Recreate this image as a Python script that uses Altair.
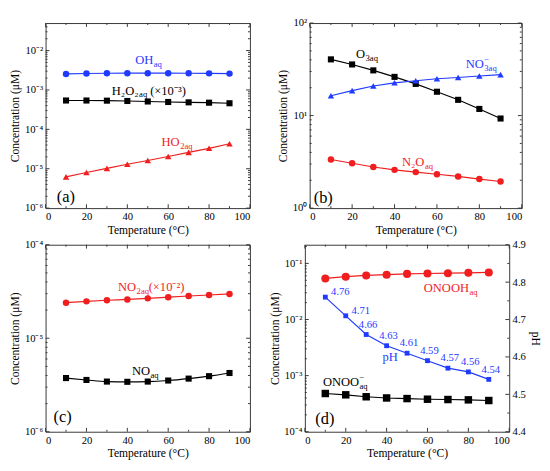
import math
import altair as alt
import pandas as pd

FONT = "Liberation Serif"
AXFONT = "Liberation Serif"
BLUE = "#1f3bff"
RED = "#f01e1e"
BLACK = "#000000"
FRAME = "#333333"

TEMPS = [10, 20, 30, 40, 50, 60, 70, 80, 90]
X_TICKS = [0, 20, 40, 60, 80, 100]
X_MINOR = [10, 30, 50, 70, 90]

# panel (a)
OH = [2.55e-3, 2.62e-3, 2.65e-3, 2.67e-3, 2.67e-3, 2.67e-3, 2.66e-3, 2.64e-3, 2.60e-3]
H2O2 = [5.4e-4, 5.4e-4, 5.35e-4, 5.25e-4, 5.1e-4, 4.95e-4, 4.85e-4, 4.75e-4, 4.6e-4]
HO2 = [6.2e-6, 8.0e-6, 1.02e-5, 1.3e-5, 1.62e-5, 2.05e-5, 2.6e-5, 3.3e-5, 4.3e-5]
A_YTICKS = [1e-6, 1e-5, 1e-4, 1e-3, 1e-2]
A_YLABELS = ["10⁻⁶", "10⁻⁵", "10⁻⁴", "10⁻³", "10⁻²"]

# panel (b)
O3 = [40.5, 35.7, 30.8, 26.2, 22.0, 18.1, 14.8, 11.8, 9.3]
NO3 = [16.4, 18.6, 20.9, 22.6, 23.8, 25.0, 25.8, 26.8, 27.7]
N2O = [3.35, 3.05, 2.78, 2.59, 2.45, 2.32, 2.20, 2.06, 1.94]
B_YTICKS = [1, 10, 100]
B_YLABELS = ["10⁰", "10¹", "10²"]

# panel (c)
NO2 = [2.40e-5, 2.48e-5, 2.55e-5, 2.60e-5, 2.67e-5, 2.75e-5, 2.83e-5, 2.90e-5, 2.98e-5]
NO = [3.75e-6, 3.58e-6, 3.44e-6, 3.42e-6, 3.44e-6, 3.53e-6, 3.70e-6, 3.93e-6, 4.25e-6]
C_YTICKS = [1e-6, 1e-5, 1e-4]
C_YLABELS = ["10⁻⁶", "10⁻⁵", "10⁻⁴"]

# panel (d)
ONOOH = [0.054, 0.058, 0.061, 0.063, 0.065, 0.066, 0.067, 0.068, 0.069]
ONOO = [4.8e-4, 4.55e-4, 4.2e-4, 4.0e-4, 3.9e-4, 3.8e-4, 3.75e-4, 3.7e-4, 3.6e-4]
PH = [4.76, 4.71, 4.66, 4.63, 4.61, 4.59, 4.57, 4.56, 4.54]
PH_LABELS = ["4.76", "4.71", "4.66", "4.63", "4.61", "4.59", "4.57", "4.56", "4.54"]
D_YTICKS = [1e-4, 1e-3, 1e-2, 1e-1]
D_YLABELS = ["10⁻⁴", "10⁻³", "10⁻²", "10⁻¹"]
PH_TICKS = [4.4, 4.5, 4.6, 4.7, 4.8, 4.9]
PH_MINOR = [4.45, 4.55, 4.65, 4.75, 4.85]


def label_expr(ticks, labels):
    lo = round(math.log10(ticks[0]))
    arr = "[" + ",".join("'" + s + "'" for s in labels) + "]"
    return f"{arr}[round(log(datum.value)/LN10) - ({lo})]"


AX = dict(labelFont=AXFONT, titleFont=AXFONT, labelFontSize=11, titleFontSize=12,
          titleFontWeight="normal", labelColor=BLACK, titleColor=BLACK,
          domain=False, ticks=False, grid=False, labelPadding=3, titlePadding=3)


def x_enc():
    return alt.X("T:Q", scale=alt.Scale(domain=[0, 100], nice=False),
                 axis=alt.Axis(values=X_TICKS, title="Temperature (°C)", **AX))


def log_y(domain, ticks, labels):
    return alt.Y("v:Q", scale=alt.Scale(type="log", domain=domain, nice=False),
                 axis=alt.Axis(values=ticks, labelExpr=label_expr(ticks, labels),
                               title="Concentration (μM)", **AX))


def text_layer(x, y, txt, yenc, color, size=13, align="left", dx=0, dy=0):
    df = pd.DataFrame({"T": [x], "v": [y], "t": [txt]})
    return alt.Chart(df).mark_text(
        align=align, baseline="middle", dx=dx, dy=dy, fontSize=size,
        font=FONT, color=color
    ).encode(x=x_enc(), y=yenc, text="t:N")


def chem_label(x, y, main, sub, yenc, color, sup=None, suffix=None, sub_w=12):
    layers = [
        text_layer(x, y, main, yenc, color, 13, "right"),
        text_layer(x, y, sub, yenc, color, 9, "left", dx=0.5, dy=4),
    ]
    if sup:
        layers.append(text_layer(x, y, sup, yenc, color, 9, "left", dx=0.5, dy=-5))
    if suffix:
        layers.append(text_layer(x, y, suffix, yenc, color, 13, "left", dx=sub_w))
    return layers


def series(vals, color, shape, size, yenc, interp="linear"):
    df = pd.DataFrame({"T": TEMPS, "v": vals})
    base = alt.Chart(df).encode(x=x_enc(), y=yenc)
    return [
        base.mark_line(color=color, strokeWidth=1.2, interpolate=interp),
        base.mark_point(filled=True, opacity=1, strokeWidth=0, color=color,
                        shape=shape, size=size),
    ]


def x_ticks(W, H):
    layers = []
    for vals, ln in ((X_TICKS, 4), (X_MINOR, 2)):
        df = pd.DataFrame({"T": vals})
        b = alt.Chart(df).mark_rule(color=FRAME, strokeWidth=1)
        layers.append(b.encode(x=x_enc(), y=alt.value(H), y2=alt.value(H - ln)))
        layers.append(b.encode(x=x_enc(), y=alt.value(0), y2=alt.value(ln)))
    return layers


def y_ticks(major, minor, yenc, W, sides=("left", "right")):
    layers = []
    for vals, ln in ((major, 4), (minor, 2)):
        df = pd.DataFrame({"v": vals})
        b = alt.Chart(df).mark_rule(color=FRAME, strokeWidth=1)
        if "left" in sides:
            layers.append(b.encode(y=yenc, x=alt.value(0), x2=alt.value(ln)))
        if "right" in sides:
            layers.append(b.encode(y=yenc, x=alt.value(W), x2=alt.value(W - ln)))
    return layers


def log_minor(domain):
    lo = math.floor(math.log10(domain[0]))
    hi = math.ceil(math.log10(domain[1]))
    out = []
    for e in range(lo, hi):
        for k in range(2, 10):
            v = k * 10 ** e
            if domain[0] < v < domain[1]:
                out.append(v)
    return out


# ---------- (a)
WA, HA = 212, 192
DA = [1e-6, 0.05]
ya = log_y(DA, A_YTICKS, A_YLABELS)
pa = alt.layer(
    *x_ticks(WA, HA), *y_ticks(A_YTICKS, log_minor(DA), ya, WA),
    *series(OH, BLUE, "circle", 45, ya),
    *series(H2O2, BLACK, "square", 40, ya),
    *series(HO2, RED, "triangle-up", 45, ya),
    *chem_label(52.7, 5.8e-3, "OH", "aq", ya, BLUE),
    *chem_label(45.5, 9.6e-4, "H₂O₂", "aq", ya, BLACK, suffix="(×10⁻³)", sub_w=12),
    *chem_label(65.6, 4.6e-5, "HO", "2aq", ya, RED),
    text_layer(9.9, 1.92e-6, "(a)", ya, BLACK, 17, "center"),
).properties(width=WA, height=HA)

# ---------- (b)
WB, HB = 220, 192
DB = [1, 100]
yb = log_y(DB, B_YTICKS, B_YLABELS)
pb = alt.layer(
    *x_ticks(WB, HB), *y_ticks(B_YTICKS, log_minor(DB), yb, WB),
    *series(O3, BLACK, "square", 40, yb),
    *series(NO3, BLUE, "triangle-up", 45, yb),
    *series(N2O, RED, "circle", 45, yb),
    *chem_label(26.1, 46.2, "O", "3aq", yb, BLACK),
    *chem_label(82.1, 36.0, "NO", "3aq", yb, BLUE, sup="−"),
    *chem_label(54.1, 3.14, "N₂O", "aq", yb, RED),
    text_layer(6.4, 1.29, "(b)", yb, BLACK, 17, "center"),
).properties(width=WB, height=HB)

# ---------- (c)
WC, HC = 212, 194
DC = [1e-6, 1e-4]
yc = log_y(DC, C_YTICKS, C_YLABELS)
pc = alt.layer(
    *x_ticks(WC, HC), *y_ticks(C_YTICKS, log_minor(DC), yc, WC),
    *series(NO2, RED, "circle", 45, yc, "monotone"),
    *series(NO, BLACK, "square", 40, yc, "monotone"),
    *chem_label(44.3, 3.5e-5, "NO", "2aq", yc, RED, suffix="(×10⁻²)", sub_w=13),
    *chem_label(51.1, 4.4e-6, "NO", "aq", yc, BLACK),
    text_layer(8.3, 1.43e-6, "(c)", yc, BLACK, 17, "center"),
).properties(width=WC, height=HC)

# ---------- (d)
WD, HD = 212, 194
DD = [1e-4, 0.215]
yd = log_y(DD, D_YTICKS, D_YLABELS)
left_d = alt.layer(
    *x_ticks(WD, HD), *y_ticks(D_YTICKS, log_minor(DD), yd, WD, sides=("left",)),
    *series(ONOOH, RED, "circle", 70, yd),
    *series(ONOO, BLACK, "square", 60, yd),
    *chem_label(80.3, 0.0367, "ONOOH", "aq", yd, RED),
    *chem_label(26.5, 7.6e-4, "ONOO", "aq", yd, BLACK, sup="−"),
    text_layer(9.8, 1.67e-4, "(d)", yd, BLACK, 17, "center"),
)
ph_df = pd.DataFrame({"T": TEMPS, "v": PH, "t": PH_LABELS})
yph = alt.Y("v:Q", scale=alt.Scale(domain=[4.4, 4.9], nice=False, zero=False),
            axis=alt.Axis(orient="right", values=PH_TICKS, format=".1f", title="pH",
                          **AX))
ph_base = alt.Chart(ph_df).encode(x=x_enc(), y=yph)
right_d = alt.layer(
    *y_ticks(PH_TICKS, PH_MINOR, yph, WD, sides=("right",)),
    ph_base.mark_line(color=BLUE, strokeWidth=1.2),
    ph_base.mark_point(filled=True, opacity=1, shape="square", size=25, color=BLUE, strokeWidth=0),
    alt.Chart(ph_df[ph_df["T"] <= 20]).mark_text(
        align="left", baseline="middle", dx=6, dy=-5, fontSize=11, font=FONT, color=BLUE
    ).encode(x=x_enc(), y=yph, text="t:N"),
    alt.Chart(ph_df[ph_df["T"] > 20]).mark_text(
        align="center", baseline="middle", dx=2, dy=-10, fontSize=11, font=FONT, color=BLUE
    ).encode(x=x_enc(), y=yph, text="t:N"),
    text_layer(41.7, 4.60, "pH", yph, BLUE, 13, "center"),
)
pd_ = alt.layer(left_d, right_d).resolve_scale(y="independent").properties(width=WD, height=HD)

row1 = alt.hconcat(pa, pb, spacing=26)
row2 = alt.hconcat(pc, pd_, spacing=17)

chart = alt.vconcat(row1, row2, spacing=2).properties(padding=0).configure_view(
    stroke=FRAME, strokeWidth=1
)

chart.save("out.html", embed_options={"renderer": "svg", "actions": False})
